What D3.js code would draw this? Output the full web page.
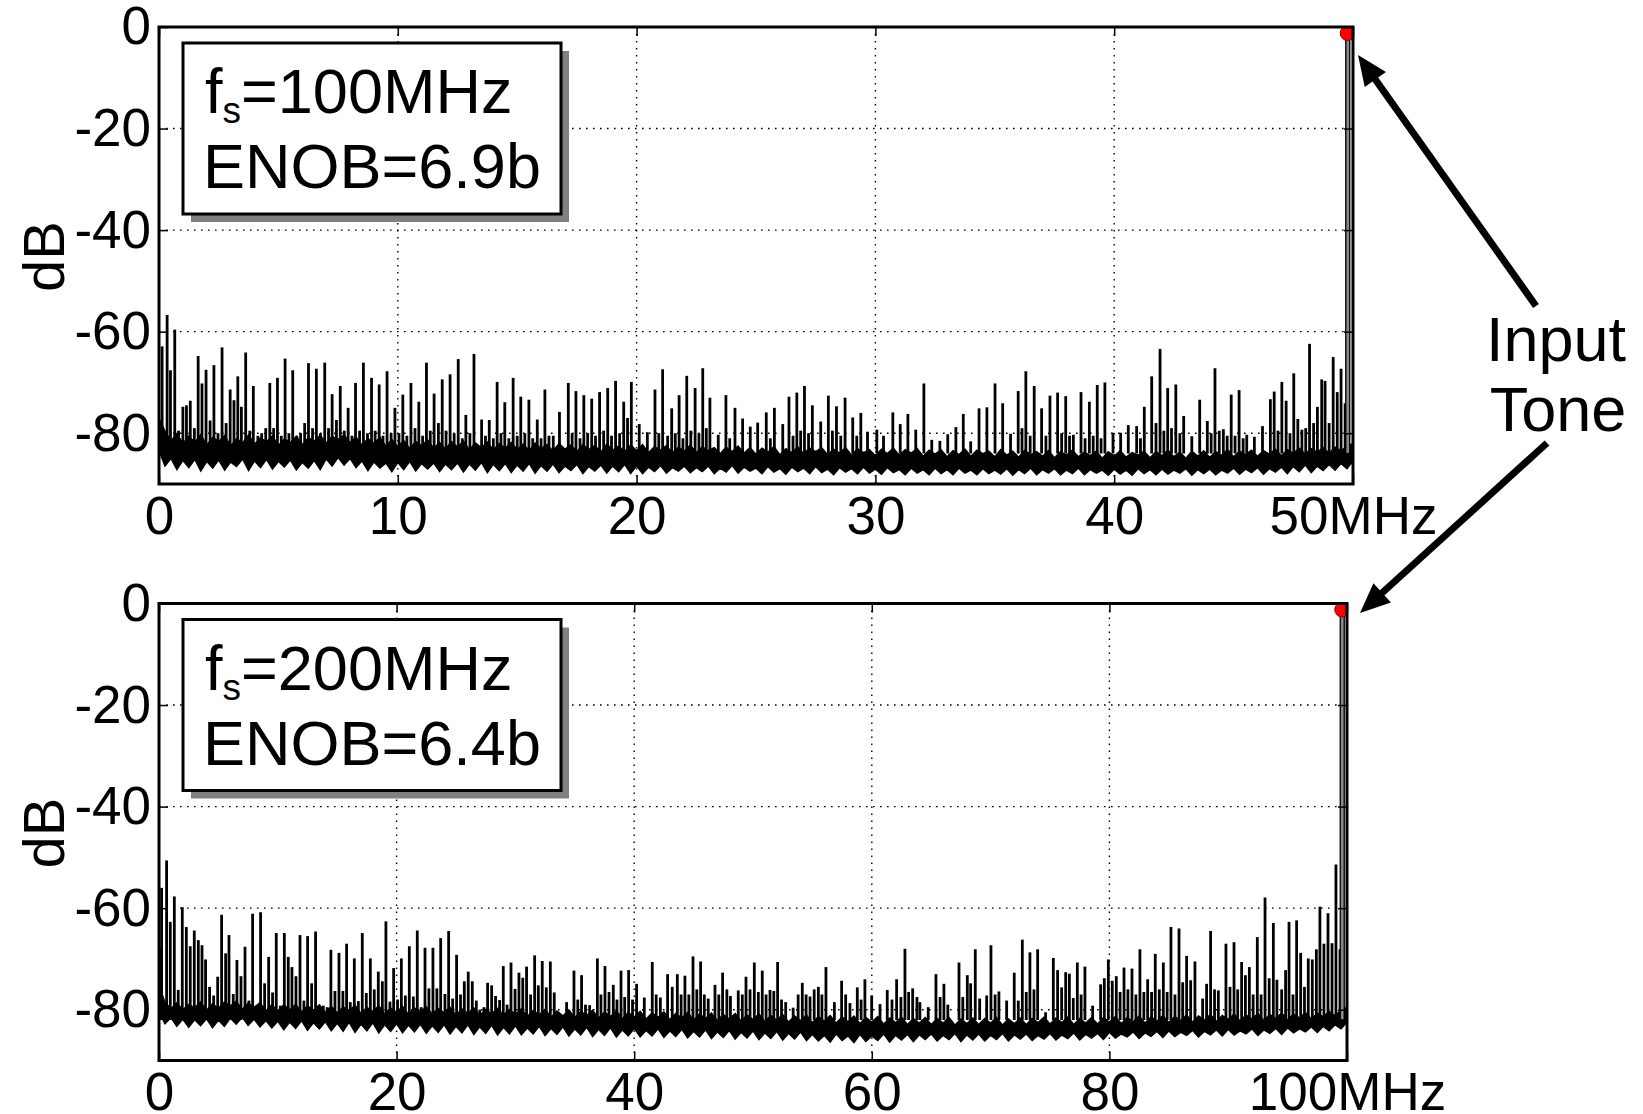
<!DOCTYPE html>
<html><head><meta charset="utf-8">
<script src="https://cdnjs.cloudflare.com/ajax/libs/d3/7.8.5/d3.min.js"></script>
<style>
body { margin: 0; background: #fff; }
svg { display: block; font-family: "Liberation Sans", Arial, sans-serif; }
.grid line { stroke: #000; stroke-width: 1.4; stroke-dasharray: 1.6,5.4; }
.axis path { display: none; }
.axis line { stroke: #000; stroke-width: 1.5; }
.axis text { font-size: 53px; fill: #000; font-family: "Liberation Sans", Arial, sans-serif; }
</style>
</head>
<body>
<div id="chart"></div>
<script>
// ---- data ----
const dbTicks = [0, -20, -40, -60, -80];

const topFreqTicks = [0, 10, 20, 30, 40, 50];
const topTickLabels = ["0", "10", "20", "30", "40", "50MHz"];
const bottomFreqTicks = [0, 20, 40, 60, 80, 100];
const bottomTickLabels = ["0", "20", "40", "60", "80", "100MHz"];

const topLabel = ["=100MHz", "ENOB=6.9b"];
const bottomLabel = ["=200MHz", "ENOB=6.4b"];

// noise floor envelope (upper / lower edge), one value per bin
const topFloorStep = 0.25;
const topFloorHi = [
  -77,-79.5,-81.5,-80,-82,-80.5,-81.8,-80.2,-82.3,-80.8,
  -81.6,-80.4,-82.5,-81,-81.9,-80.3,-82.1,-80.9,-81.7,-80.5,
  -82.4,-81.1,-81.8,-80.6,-82.2,-80.9,-81.5,-80.4,-81.9,-80.6,
  -81.2,-80.3,-81.8,-80.7,-82.3,-81,-82,-80.8,-82.5,-81.2,
  -82.6,-81.4,-83,-81.6,-82.4,-81.3,-82.9,-81.8,-83.1,-81.6,
  -82.7,-81.5,-83.2,-81.9,-82.8,-81.7,-83.3,-82,-82.9,-81.8,
  -83.2,-82.1,-83.4,-81.9,-83,-82.2,-83.5,-82,-83.1,-82.3,
  -83.6,-82.2,-83.2,-82.4,-83.7,-82.1,-83.3,-82.5,-83.6,-82.3,
  -83.4,-82.2,-83.8,-82.6,-83.3,-82.4,-83.9,-82.7,-83.5,-82.3,
  -83.8,-82.6,-83.4,-82.8,-84,-82.7,-83.6,-82.5,-83.9,-82.8,
  -84.1,-82.9,-83.7,-82.6,-84.2,-83,-83.8,-82.7,-84,-82.9,
  -83.6,-82.8,-84.2,-83.1,-83.9,-82.8,-84.3,-83,-83.8,-83.2,
  -84.4,-83.1,-84,-82.9,-84.3,-83.2,-83.9,-83,-84.5,-83.3,
  -84.1,-83.2,-84.6,-83.4,-84.2,-83.1,-84.5,-83.3,-84,-83.5,
  -84.6,-83.2,-84.3,-83.5,-84.7,-83.3,-84.2,-83.6,-84.5,-83.4,
  -84.8,-83.6,-84.3,-83.3,-84.6,-83.7,-84.4,-83.5,-84.9,-83.6,
  -84.5,-83.4,-84.7,-83.8,-84.3,-83.5,-84.8,-83.6,-84.4,-83.3,
  -84.6,-83.7,-84.9,-83.5,-84.5,-83.4,-84.7,-83.6,-84.3,-83.2,
  -84.6,-83.5,-84.2,-83.3,-84.5,-83.4,-84.1,-83.1,-84.4,-83.2,
  -83.9,-82.9,-84.1,-83,-83.7,-82.8,-83.9,-82.7,-83.4,-82.5,
  -82];
const topFloorLo = [
  -83.5,-86.5,-85,-87.2,-85.4,-86.8,-85.2,-87.5,-85.6,-86.9,
  -85.3,-87.3,-85.7,-86.6,-85.1,-87.4,-85.5,-86.8,-85.2,-87.1,
  -85.6,-86.7,-85.3,-87.3,-85.8,-86.9,-85.4,-87.2,-85.1,-86.5,
  -84.8,-86.3,-85,-86.8,-85.5,-87.4,-85.7,-86.9,-85.9,-87.6,
  -85.8,-87.2,-85.6,-87.5,-86,-87.1,-85.9,-87.6,-86.1,-87.2,
  -85.9,-87.7,-86.1,-87.3,-85.8,-87.8,-86.2,-87.4,-86,-87.8,
  -86.3,-87.5,-86,-87.9,-86.4,-87.5,-86.1,-87.8,-86.5,-87.4,
  -86.2,-88,-86.6,-87.5,-86.3,-87.9,-86.5,-87.6,-86.2,-88,
  -86.5,-88,-86.7,-87.6,-86.4,-87.9,-86.8,-87.5,-86.5,-87.8,
  -86.8,-87.6,-86.5,-88,-86.9,-87.7,-86.4,-87.9,-86.7,-87.5,
  -86.9,-88,-86.6,-87.7,-87,-88.1,-86.7,-87.6,-86.9,-88,
  -86.6,-87.8,-87.1,-88.2,-86.8,-87.7,-87,-88,-86.7,-87.9,
  -87.1,-88.1,-86.8,-87.8,-87.2,-88.2,-86.9,-87.9,-87.2,-88.2,
  -86.9,-88,-87.2,-88.2,-86.9,-87.9,-87.3,-88.2,-87,-88,
  -87.3,-88.1,-87,-88.3,-87.2,-88,-86.9,-88.2,-87.2,-87.9,
  -87,-88.2,-87.3,-88,-86.9,-88.2,-87.2,-87.9,-87.3,-88.3,
  -87.1,-88.1,-87.3,-88.3,-87,-88,-87.2,-88.2,-87.1,-88.1,
  -87.3,-87.9,-87,-88.3,-87.2,-88,-87.1,-88.2,-87.3,-87.9,
  -86.9,-88.1,-87.1,-87.8,-86.8,-88.1,-87,-87.7,-86.7,-88,
  -86.6,-87.6,-86.3,-87.8,-86.5,-87.4,-86.2,-87.3,-86,-87,
  -85.5];

const bottomFloorStep = 0.5;
const bottomFloorHi = [
  -75,-78.5,-79.8,-78.6,-80,-78.9,-79.6,-78.4,-80.1,-78.8,
  -79.7,-78.5,-79.2,-78.3,-79.9,-78.7,-79.5,-78.6,-80.2,-79,
  -80.3,-79,-80,-78.9,-80.4,-79.2,-80.1,-79,-80.5,-79.3,
  -80.6,-79.4,-80.2,-79.1,-80.7,-79.5,-80.3,-79.2,-80.8,-79.6,
  -80.5,-79.3,-80.9,-79.6,-80.4,-79.4,-80.8,-79.7,-80.6,-79.5,
  -81,-79.8,-80.7,-79.6,-81.1,-79.9,-80.8,-79.7,-81,-79.9,
  -80.9,-79.8,-81.3,-80.1,-81,-79.9,-81.4,-80.2,-81.2,-80,
  -81.5,-80.3,-81.1,-80.1,-81.6,-80.4,-81.3,-80.2,-81.7,-80.5,
  -81.4,-80.3,-81.8,-80.6,-81.5,-80.4,-81.9,-80.7,-81.6,-80.5,
  -82,-80.8,-81.7,-80.6,-82.1,-80.9,-81.8,-80.7,-82.2,-81,
  -81.9,-80.8,-82.3,-81.1,-82,-80.9,-82.4,-81.2,-82.1,-81,
  -82.5,-81.3,-82.2,-81.1,-82.6,-81.4,-82.3,-81.2,-82.7,-81.5,
  -82.4,-81.3,-82.8,-81.6,-82.5,-81.4,-82.9,-81.7,-82.6,-81.5,
  -82.9,-81.7,-82.6,-81.5,-83,-81.8,-82.7,-81.6,-82.9,-81.7,
  -82.6,-81.5,-83,-81.8,-82.7,-81.6,-82.9,-81.7,-82.5,-81.4,
  -82.8,-81.6,-82.5,-81.4,-82.9,-81.7,-82.6,-81.5,-82.8,-81.5,
  -82.4,-81.3,-82.7,-81.5,-82.3,-81.2,-82.6,-81.4,-82.2,-81.1,
  -82.5,-81.3,-82.1,-81,-82.4,-81.2,-82,-80.9,-82.3,-81.1,
  -81.9,-80.8,-82.2,-81,-81.8,-80.7,-82.1,-80.9,-81.7,-80.6,
  -82,-80.8,-81.6,-80.5,-81.8,-80.6,-81.4,-80.3,-81.2,-80,
  -79.5];
const bottomFloorLo = [
  -80.5,-82.8,-81.6,-83.3,-81.9,-83.5,-82,-83.2,-81.8,-83.6,
  -82.1,-83.3,-81.7,-82.9,-81.5,-83.1,-81.9,-83.4,-82.2,-83.6,
  -82.3,-84,-82.5,-83.7,-82.2,-84.1,-82.6,-83.8,-82.4,-84.2,
  -82.7,-84.3,-82.5,-84.5,-82.9,-84.2,-82.6,-84.6,-83,-84.3,
  -82.8,-84.6,-83.1,-84.4,-82.9,-84.7,-83.2,-84.5,-83,-84.8,
  -83.3,-84.6,-83,-84.9,-83.4,-84.7,-83.1,-85,-83.5,-84.8,
  -83.2,-85,-83.6,-84.8,-83.3,-85.1,-83.7,-84.9,-83.4,-85.2,
  -83.8,-85,-83.5,-85.3,-83.9,-85.1,-83.6,-85.4,-84,-85.2,
  -83.7,-85.4,-84.1,-85.2,-83.8,-85.5,-84.2,-85.3,-83.9,-85.6,
  -84.3,-85.4,-84,-85.7,-84.4,-85.5,-84.1,-85.8,-84.5,-85.6,
  -84.2,-85.9,-84.6,-85.7,-84.3,-86,-84.7,-85.8,-84.4,-86.1,
  -84.9,-86.2,-85.1,-86.4,-84.8,-86.1,-85.2,-86.5,-84.9,-86.3,
  -85.2,-86.1,-84.8,-86.4,-85.1,-86,-84.9,-86.3,-85,-85.9,
  -84.8,-86.2,-85.1,-85.9,-84.7,-86.3,-85,-86,-84.8,-86.2,
  -85.1,-85.9,-84.7,-86.2,-85,-85.8,-84.8,-86.1,-85.1,-85.8,
  -84.7,-86,-85,-85.7,-84.6,-86,-84.9,-85.6,-84.7,-85.9,
  -84.5,-85.6,-84.8,-85.4,-84.4,-85.7,-84.6,-85.3,-84.3,-85.5,
  -84.2,-85.3,-84.5,-85.1,-84.1,-85.4,-84.3,-85,-84,-85.2,
  -83.9,-85,-84.2,-84.8,-83.8,-85.1,-84,-84.7,-83.7,-84.9,
  -83.6,-84.6,-83.8,-84.4,-83.4,-84.5,-83.3,-84.2,-83,-83.8,
  -82.5];

// spurs (MHz, dB)
const topSpurFreq = [0.13,0.34,0.48,0.66,0.82,1.0,1.15,1.31,1.48,1.64,1.8,1.97,2.14,2.3,2.47,2.64,2.81,2.98,3.14,3.3,
  3.45,3.63,3.8,3.95,4.14,4.3,4.47,4.64,4.8,4.96,5.12,5.28,5.44,5.6,5.77,5.93,6.1,6.26,6.43,6.59,
  6.76,6.94,7.1,7.25,7.43,7.59,7.76,7.92,8.08,8.23,8.4,8.56,8.73,8.9,9.05,9.22,9.38,9.55,9.72,9.88,
  10.05,10.21,10.38,10.55,10.72,10.88,11.04,11.2,11.36,11.52,11.7,11.86,12.02,12.19,12.36,12.53,12.7,12.85,13.02,13.19,
  13.51,13.67,13.83,14.0,14.16,14.32,14.48,14.65,14.83,15.0,15.15,15.32,15.49,15.65,15.84,16.0,16.16,16.33,16.51,16.77,
  17.14,17.3,17.46,17.63,17.79,17.95,18.12,18.28,18.45,18.62,18.79,18.95,19.12,19.29,19.46,19.62,19.78,20.11,20.45,20.77,
  20.93,21.09,21.3,21.47,21.62,21.78,21.94,22.1,22.27,22.45,22.61,22.77,22.92,23.07,23.42,23.74,23.9,24.12,24.44,24.76,
  25.07,25.43,25.6,25.77,26.12,26.38,26.55,26.71,26.87,27.03,27.2,27.36,27.71,28.03,28.2,28.37,28.55,28.73,29.05,29.22,
  29.39,29.67,30.06,30.34,30.73,31.04,31.36,31.69,32.03,32.36,32.7,33.03,33.37,33.68,33.99,34.34,34.67,35.01,35.33,35.66,
  35.98,36.14,36.3,36.48,36.65,36.96,37.14,37.31,37.63,37.8,37.97,38.13,38.29,38.61,38.78,38.96,39.12,39.29,39.45,39.61,
  39.95,40.27,40.59,40.94,41.1,41.26,41.57,41.75,41.92,42.08,42.24,42.4,42.58,42.75,42.91,43.25,43.58,43.9,44.06,44.22,
  44.4,44.57,44.73,44.9,45.06,45.23,45.4,45.55,45.87,46.21,46.54,46.7,46.86,47.02,47.2,47.36,47.52,47.69,47.86,48.02,
  48.18,48.35,48.51,48.69,48.83,49.0,49.17,49.34,49.5,49.67];
const topSpurDb = [-62.9,-56.7,-67.6,-59.6,-79.5,-74.8,-74.5,-73.6,-79,-64.8,-70.2,-67.5,-77.5,-66.6,-80,-63.1,-78,-71.4,-73.5,-68.8,
  -74.8,-64.1,-79.5,-70.7,-80.5,-80,-79,-70.1,-79,-69.1,-80.5,-65.3,-80,-67.6,-80.5,-80,-78,-66.2,-79,-67.3,
  -80,-66.1,-79,-72.3,-77.4,-70.7,-79.5,-75,-80.5,-70.1,-79.5,-66.1,-80,-69.1,-79.5,-70.4,-80.5,-67.8,-80,-75,
  -80,-72.4,-80.5,-70.1,-79,-73.8,-80.5,-66.1,-79.5,-72.2,-78,-69.4,-79.5,-68.4,-80,-65.4,-81,-76.4,-80,-64.4,
  -77.3,-80.5,-77.4,-81,-69.9,-80,-73.9,-81,-69.1,-80.5,-72.8,-80,-73.4,-81,-77.3,-81,-71.4,-80.5,-80.5,-75.8,
  -70.1,-80,-71.7,-81,-72.5,-80,-73.2,-80.5,-71.9,-79.5,-71.1,-80.5,-69.7,-80,-73.8,-77,-69.9,-78.2,-79.8,-71.4,
  -80,-67.4,-80.5,-75.1,-80,-72.5,-81,-68.7,-79.5,-71.1,-80,-67.2,-79,-73,-80.3,-72.5,-81,-75,-77.1,-78.7,
  -77.9,-75.9,-81,-75,-78.2,-72.8,-80.5,-72,-79.5,-70.7,-80,-74.5,-77.7,-72.6,-79.5,-74.7,-80.5,-73,-76.9,-80.5,
  -76,-79.7,-79.3,-80.5,-75.9,-78.2,-76.2,-79.3,-70.2,-81.3,-81.5,-80.2,-78.8,-76.2,-81.6,-75.1,-74.9,-70.2,-74.1,-80.1,
  -71.7,-79,-67.8,-80.5,-70.7,-75.1,-80.5,-72.6,-72,-80,-72.7,-80.5,-80.3,-71.9,-81,-73.8,-80.5,-70.5,-81,-70,
  -79.9,-79.9,-78.4,-78.6,-81,-74.8,-68.8,-78,-63.4,-79.5,-71.1,-79,-70.4,-80,-76.6,-80.6,-73.4,-77.6,-80,-67.2,
  -79.5,-79.2,-80.5,-72.4,-80.5,-71.5,-81,-80.3,-80.7,-78.6,-73.3,-71.8,-79.5,-69.9,-73.6,-80,-68.2,-77.2,-79.3,-79,
  -62.4,-78,-74.8,-69.4,-69.7,-78,-65,-71.9,-67.3,-74.1];

const bottomSpurFreq = [0.05,0.22,0.64,0.95,1.29,1.62,1.96,2.3,2.63,2.97,3.31,3.62,3.92,4.26,4.6,4.94,5.27,5.61,5.89,6.25,
  6.56,6.9,7.24,7.57,7.88,8.22,8.55,8.89,9.23,9.56,9.87,10.21,10.55,10.88,11.19,11.53,11.87,12.2,12.51,12.85,
  13.18,13.49,13.83,14.15,14.47,14.81,15.15,15.48,15.79,16.1,16.44,16.78,17.11,17.45,17.79,18.12,18.46,18.8,19.1,19.44,
  19.75,20.08,20.4,20.74,21.07,21.41,21.74,22.07,22.39,22.72,23.06,23.39,23.71,24.07,24.38,24.72,25.05,25.38,25.7,26.03,
  26.37,26.71,27.0,27.35,27.66,28.0,28.33,28.67,28.98,29.3,29.63,29.97,30.3,30.62,30.94,31.28,31.62,31.93,32.26,32.6,
  32.94,33.27,34.31,34.93,35.25,35.57,35.9,36.25,36.9,37.2,37.54,37.88,38.24,38.55,38.89,39.2,39.53,39.86,40.2,40.85,
  41.52,41.85,42.2,42.81,43.2,43.63,43.95,44.27,44.6,44.95,45.27,45.59,45.9,46.23,46.8,47.12,47.44,47.8,48.1,48.76,
  49.1,49.41,49.75,50.11,50.45,50.78,51.1,51.43,51.75,52.07,52.4,52.75,53.38,53.8,54.15,54.47,54.8,55.15,55.5,55.8,
  56.14,56.85,57.46,57.8,58.16,58.78,59.1,59.42,59.99,60.69,61.3,61.7,62.09,62.45,62.79,63.1,63.44,63.8,64.05,64.75,
  65.4,65.75,66.07,66.4,67.34,67.66,68.04,68.32,68.71,69.08,69.67,70.03,70.38,70.7,71.35,71.99,72.33,72.67,73.0,73.31,
  73.65,73.96,74.63,75.28,75.64,75.98,76.32,76.63,76.96,77.3,77.62,77.94,78.59,79.26,79.57,79.91,80.24,80.58,80.9,81.23,
  81.56,81.9,82.23,82.57,82.9,83.22,83.55,83.86,84.2,84.54,84.86,85.18,85.52,85.86,86.17,86.5,86.84,87.2,87.85,88.18,
  88.52,88.85,89.17,89.81,90.15,90.49,90.8,91.13,91.45,91.78,92.1,92.45,92.77,93.1,93.45,93.8,94.1,94.5,94.83,95.12,
  95.45,95.76,96.1,96.42,96.74,97.08,97.42,97.72,98.06,98.4,98.74,99.07,99.41];
const bottomSpurDb = [-68,-56,-50.6,-62.7,-57.7,-76.1,-59.8,-63.7,-67.5,-64.4,-66.3,-67.3,-70.1,-75.5,-77.2,-73.5,-61.3,-68.9,-65.3,-76.9,
  -70.2,-73.4,-67.6,-78.2,-61.1,-79.2,-60.8,-74.8,-69.6,-76.6,-64.9,-79.2,-64.9,-69.6,-71.6,-73.4,-65.3,-78.2,-65.5,-74.8,
  -64.6,-79.2,-79.2,-79.5,-68.2,-76.3,-68.8,-76.3,-67,-78.5,-69.9,-78.3,-64.9,-76.7,-69.9,-76,-72.5,-74.4,-62.6,-78.4,
  -71.8,-78,-69.9,-77.2,-67.5,-77.4,-64.4,-79.5,-67.8,-75.8,-67.8,-75.8,-65.9,-76.9,-64.5,-77.8,-69.2,-77,-74.4,-72.5,
  -74.4,-78.2,-80,-79.5,-74.7,-75.2,-77.3,-78.1,-71.4,-79,-70.7,-75.9,-72.7,-73.7,-71.5,-77,-69.3,-75.2,-70.4,-75.6,
  -70.5,-76.6,-78.5,-72.3,-78,-73.2,-79,-79.1,-69.9,-77,-71.4,-76.5,-75.1,-78,-72.3,-77.5,-72.2,-78,-74.9,-77.6,
  -70.6,-77,-77.6,-73,-75.5,-73,-77,-73.3,-77,-69.5,-76,-70.5,-77,-77.8,-75.1,-77,-72.7,-76,-77.3,-76.2,
  -77,-73.5,-76,-70.7,-76.5,-72.3,-77,-76.1,-76.3,-70.6,-78,-78.5,-79.6,-77,-74.7,-77,-77.4,-76,-75.5,-77,
  -71.6,-78.5,-74.3,-77,-78.7,-75.6,-78,-74,-77.2,-78.9,-76.1,-78,-74,-77.5,-68,-76.5,-75.8,-77.5,-78.5,-79.5,
  -73,-77.5,-74.9,-79,-70.7,-77.5,-73.2,-74.8,-68.1,-77.8,-77.2,-67.3,-77,-76.4,-78.2,-72.7,-78.2,-66.2,-76.5,-68.7,
  -76,-68.1,-80.5,-69.8,-72.2,-75.6,-72.6,-72.9,-77.7,-70.7,-77,-71.5,-79.2,-75,-73.8,-70.1,-74.3,-73.4,-76.5,-71.7,
  -76,-71.9,-77,-68.1,-76.5,-74,-76.5,-69,-76,-70.7,-76.5,-63.7,-77,-64,-74.6,-69.4,-74.2,-70.5,-77.8,-74.9,
  -64.5,-76,-76.2,-67,-75.5,-66.7,-76,-70.6,-73.2,-71.6,-77,-65.7,-77,-57.9,-73.8,-62.9,-74.1,-76,-72.2,-62.7,
  -77,-62.4,-68.8,-75.5,-69.9,-70.1,-68.1,-59.7,-67,-61,-66.9,-51.4,-68.1];

// input tone (MHz, dB)
const topTone = [49.78, -1.2];
const bottomTone = [99.6, -1.2];

// ---- drawing ----
const W = 1643, H = 1114;
const svg = d3.select("#chart").append("svg")
    .attr("width", W)
    .attr("height", H);

svg.append("rect").attr("width", W).attr("height", H).attr("fill", "#fff");

const defs = svg.append("defs");

function drawPanel(p) {
    const x = d3.scaleLinear().domain([p.ticks[0], p.ticks[p.ticks.length - 1]]).range([p.left, p.right]);
    const y = d3.scaleLinear().domain([-90, 0]).range([p.bottom, p.top]);
    const g = svg.append("g");

    defs.append("clipPath").attr("id", "clip-" + p.id)
        .append("rect")
        .attr("x", p.left).attr("y", p.top)
        .attr("width", p.right - p.left).attr("height", p.bottom - p.top);

    // dotted grid
    const grid = g.append("g").attr("class", "grid");
    grid.selectAll(".vg").data(p.ticks.slice(1, -1)).join("line")
        .attr("x1", d => x(d)).attr("x2", d => x(d))
        .attr("y1", p.top).attr("y2", p.bottom);
    grid.selectAll(".hg").data(dbTicks.slice(1)).join("line")
        .attr("x1", p.left).attr("x2", p.right)
        .attr("y1", d => y(d)).attr("y2", d => y(d));

    const plot = g.append("g").attr("clip-path", `url(#clip-${p.id})`);

    // noise floor band
    const area = d3.area()
        .x((d, i) => x(i * p.floorStep))
        .y0((d, i) => y(p.floorLo[i]))
        .y1(d => y(d));
    plot.append("path")
        .datum(p.floorHi)
        .attr("d", area)
        .attr("fill", "#000")
        .attr("stroke", "#000")
        .attr("stroke-width", 1.2)
        .attr("stroke-linejoin", "miter");

    // spurs
    plot.selectAll(".spur").data(p.spurFreq).join("line")
        .attr("x1", d => x(d)).attr("x2", d => x(d))
        .attr("y1", y(p.spurBase))
        .attr("y2", (d, i) => y(p.spurDb[i]))
        .attr("stroke", "#000")
        .attr("stroke-width", 2.8);

    // input tone
    plot.append("rect")
        .attr("x", x(p.tone[0]) - 2)
        .attr("width", 4)
        .attr("y", y(p.tone[1]))
        .attr("height", y(p.spurBase) - y(p.tone[1]))
        .attr("fill", "#888")
        .attr("stroke", "#000")
        .attr("stroke-width", 1.3);
    plot.append("circle")
        .attr("cx", x(p.tone[0]))
        .attr("cy", y(p.tone[1]))
        .attr("r", 7.5)
        .attr("fill", "#f00")
        .attr("stroke", "#900")
        .attr("stroke-width", 1);

    // axes with inward ticks
    g.append("g").attr("class", "axis")
        .attr("transform", `translate(0,${p.bottom})`)
        .call(d3.axisBottom(x).tickValues(p.ticks).tickSize(-9).tickPadding(12)
            .tickFormat((d, i) => p.labels[i]));
    g.append("g").attr("class", "axis")
        .attr("transform", `translate(0,${p.top})`)
        .call(d3.axisTop(x).tickValues(p.ticks).tickSize(-9).tickFormat(""));
    g.append("g").attr("class", "axis")
        .attr("transform", `translate(${p.left},0)`)
        .call(d3.axisLeft(y).tickValues(dbTicks).tickSize(-9).tickPadding(8)
            .tickFormat(d => String(d)));
    g.append("g").attr("class", "axis")
        .attr("transform", `translate(${p.right},0)`)
        .call(d3.axisRight(y).tickValues(dbTicks).tickSize(-9).tickFormat(""));

    // frame
    g.append("rect")
        .attr("x", p.left).attr("y", p.top)
        .attr("width", p.right - p.left).attr("height", p.bottom - p.top)
        .attr("fill", "none")
        .attr("stroke", "#000")
        .attr("stroke-width", 3);

    // y label
    g.append("text")
        .attr("transform", `translate(64,${(p.top + p.bottom) / 2 + 1}) rotate(-90)`)
        .attr("text-anchor", "middle")
        .style("font-size", "58px")
        .text("dB");

    // label box with shadow
    const bx = p.left + 24, by = p.top + 16, bw = 378, bh = 171;
    g.append("rect").attr("x", bx + 8).attr("y", by + 8).attr("width", bw).attr("height", bh)
        .attr("fill", "#808080");
    g.append("rect").attr("x", bx).attr("y", by).attr("width", bw).attr("height", bh)
        .attr("fill", "#fff").attr("stroke", "#000").attr("stroke-width", 3);
    const t1 = g.append("text").attr("x", bx + 22).attr("y", by + 70).style("font-size", "63px");
    t1.append("tspan").text("f");
    t1.append("tspan").attr("dy", 10).style("font-size", "37px").text("s");
    t1.append("tspan").attr("dy", -10).text(p.boxText[0]);
    g.append("text").attr("x", bx + 20).attr("y", by + 145).style("font-size", "63px")
        .text(p.boxText[1]);
}

drawPanel({
    id: "top", left: 159, right: 1353, top: 27, bottom: 484,
    ticks: topFreqTicks, labels: topTickLabels, boxText: topLabel,
    floorStep: topFloorStep, floorHi: topFloorHi, floorLo: topFloorLo,
    spurFreq: topSpurFreq, spurDb: topSpurDb, spurBase: -84, tone: topTone
});

drawPanel({
    id: "bottom", left: 159, right: 1347, top: 603.5, bottom: 1060.5,
    ticks: bottomFreqTicks, labels: bottomTickLabels, boxText: bottomLabel,
    floorStep: bottomFloorStep, floorHi: bottomFloorHi, floorLo: bottomFloorLo,
    spurFreq: bottomSpurFreq, spurDb: bottomSpurDb, spurBase: -82, tone: bottomTone
});

// "Input Tone" annotation with arrows
function arrow(x1, y1, x2, y2) {
    const a = Math.atan2(y2 - y1, x2 - x1);
    const L = 30, Wd = 13;
    const bxp = x2 - L * Math.cos(a), byp = y2 - L * Math.sin(a);
    svg.append("line")
        .attr("x1", x1).attr("y1", y1)
        .attr("x2", bxp + 4 * Math.cos(a)).attr("y2", byp + 4 * Math.sin(a))
        .attr("stroke", "#000").attr("stroke-width", 7);
    svg.append("path")
        .attr("d", `M${x2},${y2} L${bxp - Wd * Math.sin(a)},${byp + Wd * Math.cos(a)} L${bxp + Wd * Math.sin(a)},${byp - Wd * Math.cos(a)} Z`)
        .attr("fill", "#000");
}
arrow(1536, 306, 1358, 55);
arrow(1547, 443, 1360, 613);

svg.append("text").attr("x", 1556).attr("y", 361)
    .attr("text-anchor", "middle").style("font-size", "63px").text("Input");
svg.append("text").attr("x", 1558).attr("y", 431)
    .attr("text-anchor", "middle").style("font-size", "63px").text("Tone");
</script>
</body></html>
